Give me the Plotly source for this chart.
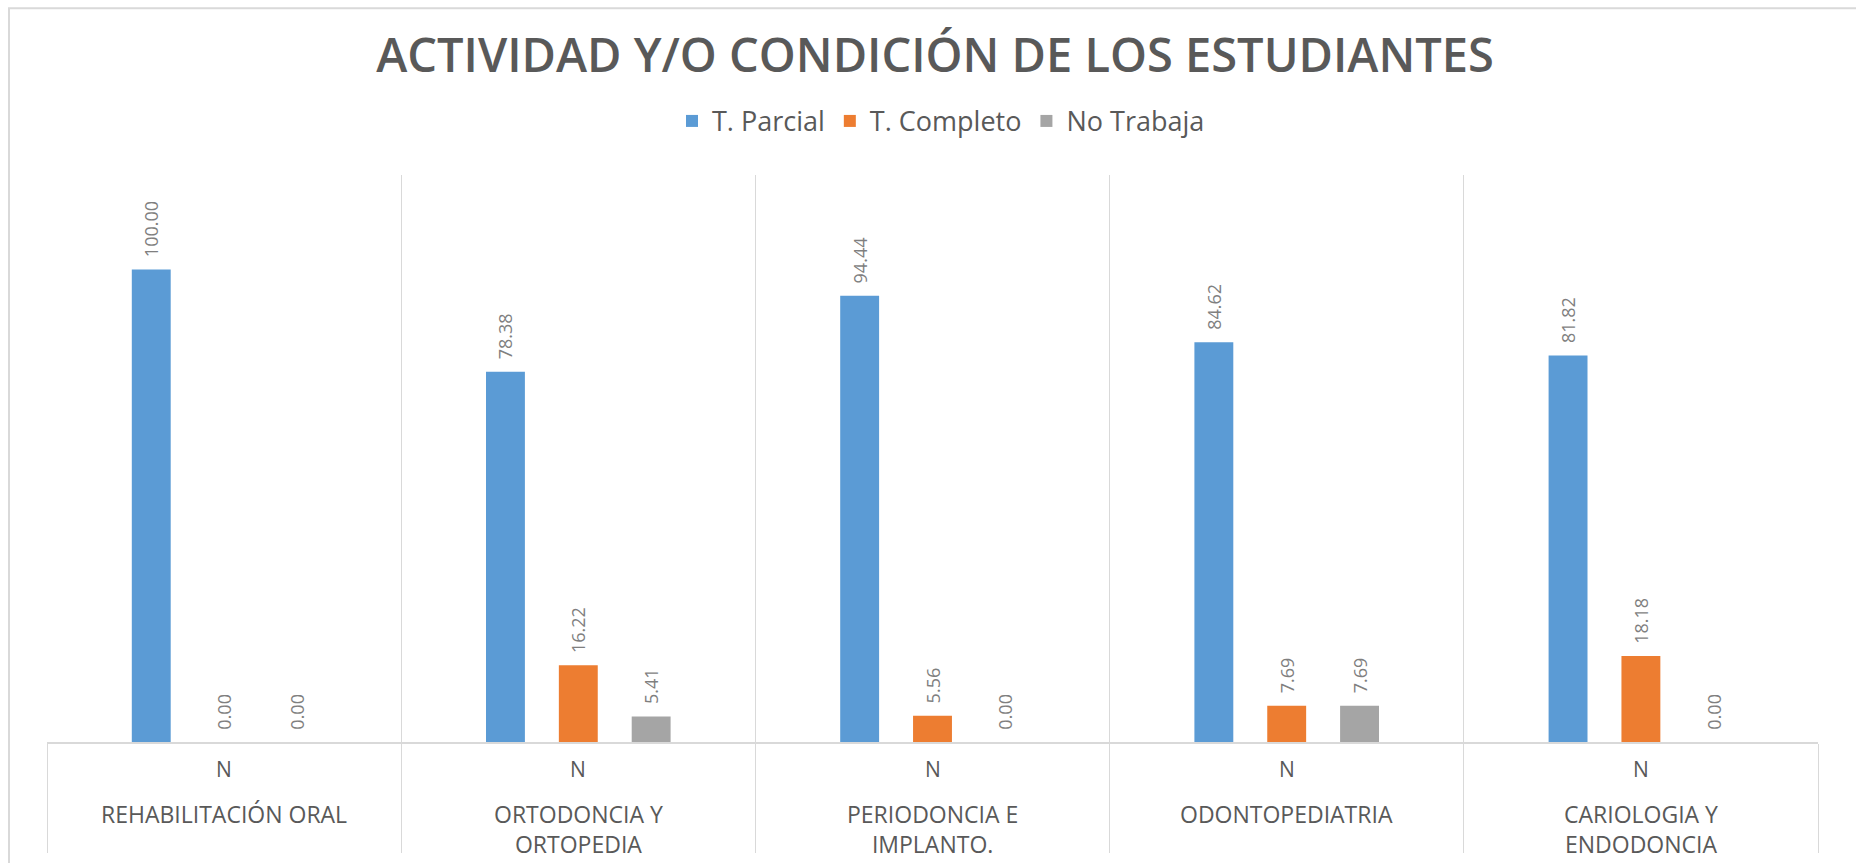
import plotly.graph_objects as go

categories = ["REHABILITACIÓN ORAL", "ORTODONCIA Y<br>ORTOPEDIA", "PERIODONCIA E<br>IMPLANTO.",
              "ODONTOPEDIATRIA", "CARIOLOGIA Y<br>ENDODONCIA"]
inner_label = "N"
series_names = ["T. Parcial", "T. Completo", "No Trabaja"]
t_parcial = [100.00, 78.38, 94.44, 84.62, 81.82]
t_completo = [0.00, 16.22, 5.56, 7.69, 18.18]
no_trabaja = [0.00, 5.41, 0.00, 7.69, 0.00]
colors = ["#5B9BD5", "#ED7D31", "#A5A5A5"]

W, H = 1856, 863
ML, MR, MT, MB = 47, 38, 175, 117
plot_h = H - MT - MB

fig = go.Figure()
for name, vals, col in zip(series_names, [t_parcial, t_completo, no_trabaja], colors):
    fig.add_trace(go.Bar(
        x=categories, y=vals, name=name, marker=dict(color=col, line=dict(width=0)),
        texttemplate="\u00a0\u00a0%{y:.2f}", textposition="outside", textangle=-90,
        textfont=dict(family="Open Sans", size=18, color="#7F7F7F"),
        constraintext="none", cliponaxis=False, hoverinfo="x+y+name",
    ))

def py(y_px):
    return -(y_px - (H - MB)) / plot_h

annotations = []
for c in categories:
    annotations.append(dict(x=c, xref="x", y=py(773), yref="paper", text=inner_label,
                            showarrow=False, yanchor="middle",
                            font=dict(family="Open Sans", size=21, color="#595959")))
    annotations.append(dict(x=c, xref="x", y=py(800), yref="paper", text=c,
                            showarrow=False, yanchor="top", align="center",
                            font=dict(family="Open Sans", size=23, color="#595959")))

fig.update_layout(
    width=W, height=H,
    margin=dict(l=ML, r=MR, t=MT, b=MB, pad=0),
    paper_bgcolor="white", plot_bgcolor="white",
    barmode="group", bargap=0.383, bargroupgap=0.466,
    title=dict(text="ACTIVIDAD Y/O CONDICIÓN DE LOS ESTUDIANTES", x=935 / W, xanchor="center",
               y=1 - 56 / H, yanchor="middle",
               font=dict(family="Open Sans", size=47, color="#595959", weight=600)),
    legend=dict(orientation="h", x=(941 - ML) / (W - ML - MR), xanchor="center",
                y=1 + (MT - 121) / plot_h, yanchor="middle",
                font=dict(family="Open Sans", size=27, color="#595959"),
                itemclick=False, itemdoubleclick=False),
    xaxis=dict(type="category", tickson="boundaries", showgrid=True, gridcolor="#D9D9D9", gridwidth=1,
               ticks="outside", ticklen=109, tickcolor="#D9D9D9", tickwidth=1,
               showticklabels=False, showline=True, linecolor="#D9D9D9", linewidth=2,
               zeroline=False),
    yaxis=dict(range=[0, 120], visible=False, showgrid=False, zeroline=False),
    annotations=annotations,
    shapes=[dict(type="rect", xref="paper", yref="paper",
                 x0=(9 - ML) / (W - ML - MR), x1=(W + 20 - ML) / (W - ML - MR),
                 y0=py(H + 20), y1=py(7),
                 line=dict(color="#D9D9D9", width=2), layer="below")],
)

fig.write_html("out.html", config={"displayModeBar": False},
               post_script="document.body.style.margin='0';")
